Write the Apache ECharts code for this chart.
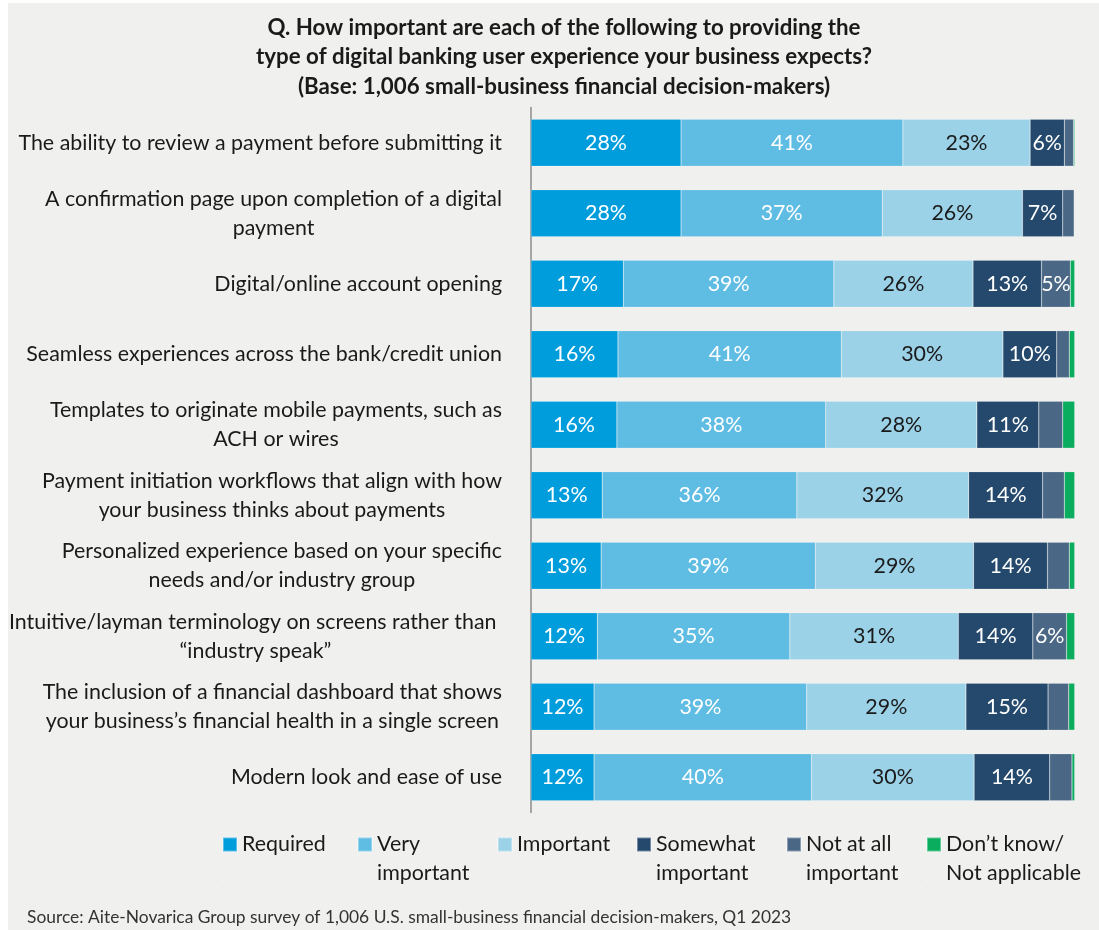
<!DOCTYPE html>
<html>
<head>
<meta charset="utf-8">
<script src="https://cdn.jsdelivr.net/npm/echarts@6/dist/echarts.min.js"></script>
<style>
  html, body { margin: 0; padding: 0; background: #ffffff; }
  #panel { position: absolute; left: 8px; top: 3px; width: 1091px; height: 927px; background: #f0f0ee; }
  #chart { position: absolute; left: 0; top: 0; width: 1099px; height: 930px; }
</style>
</head>
<body>
<div id="panel"></div>
<div id="chart"></div>
<script>
// Survey statements (top to bottom)
const categories = [
  'The ability to review a payment before submitting it',
  'A confirmation page upon completion of a digital\npayment',
  'Digital/online account opening',
  'Seamless experiences across the bank/credit union',
  'Templates to originate mobile payments, such as\nACH or wires',
  'Payment initiation workflows that align with how\nyour business thinks about payments',
  'Personalized experience based on your specific\nneeds and/or industry group',
  'Intuitive/layman terminology on screens rather than \n\u201cindustry speak\u201d',
  'The inclusion of a financial dashboard that shows\nyour business\u2019s financial health in a single screen',
  'Modern look and ease of use'
];

// Response shares (% of respondents) per statement
const required          = [27.6, 27.6, 17.0, 16.0, 15.8, 13.1, 12.9, 12.2, 11.6, 11.6];
const veryImportant     = [40.8, 37.0, 38.7, 41.1, 38.4, 35.8, 39.4, 35.4, 39.1, 40.0];
const important         = [23.4, 25.8, 25.6, 29.7, 27.8, 31.6, 29.1, 31.0, 29.3, 29.9];
const somewhatImportant = [ 6.3,  7.4, 12.6,  9.9, 11.4, 13.6, 13.6, 13.7, 15.1, 13.9];
const notAtAllImportant = [ 1.7,  2.1,  5.3,  2.3,  4.4,  4.0,  4.0,  6.2,  3.8,  4.1];
const dontKnow          = [ 0.2,  0.1,  0.8,  1.0,  2.2,  1.9,  1.0,  1.5,  1.1,  0.5];

const seriesNames = [
  'Required', 'Very important', 'Important',
  'Somewhat important', 'Not at all important', 'Don\u2019t know/Not applicable'
];
const legendLabels = [
  'Required', 'Very\nimportant', 'Important',
  'Somewhat\nimportant', 'Not at all\nimportant', 'Don\u2019t know/\nNot applicable'
];
const seriesData = [required, veryImportant, important, somewhatImportant, notAtAllImportant, dontKnow];

const colors = ['#009ddc', '#5fbce3', '#9bd2e8', '#24496d', '#4a6885', '#0aad5e'];
const labelColors = ['#ffffff', '#ffffff', '#1a1a1a', '#ffffff', '#ffffff', '#ffffff'];
const legendLeft = [222, 357, 497, 636, 786, 926];

const FONT = 'Lato, "Open Sans", sans-serif';
const TEXT = '#1a1a1a';
const FS = 21.4;

// Legend key: a 14px square sitting at the top of a 43px-tall item box,
// so it lines up with the first line of two-line legend names.
const KEY_ICON = 'path://M0,0H14V14H0Z M0,42.96H0.04V43H0Z';

const chart = echarts.init(document.getElementById('chart'), null, { renderer: 'canvas' });

const series = seriesNames.map((name, i) => ({
  name: name,
  type: 'bar',
  stack: 'total',
  barWidth: 47,
  data: seriesData[i],
  itemStyle: { color: colors[i], borderColor: 'rgba(255,255,255,0.35)', borderWidth: 0.5 },
  label: {
    show: i < 5,
    position: 'inside',
    color: labelColors[i],
    fontFamily: FONT,
    fontSize: FS,
    formatter: p => (p.value >= 5 ? Math.round(p.value) + '%' : '')
  },
  emphasis: { disabled: true }
}));

const legends = seriesNames.map((name, i) => ({
  data: [name],
  left: legendLeft[i],
  top: 830,
  padding: 0,
  itemWidth: 14,
  itemHeight: 43,
  icon: KEY_ICON,
  selectedMode: false,
  formatter: () => (legendLabels[i].indexOf('\n') >= 0 ? legendLabels[i] : legendLabels[i] + '\n '),
  textStyle: {
    fontFamily: FONT,
    fontSize: FS,
    lineHeight: 29,
    color: TEXT
  }
}));

chart.setOption({
  animation: false,
  title: [
    {
      text: 'Q. How important are each of the following to providing the\ntype of digital banking user experience your business expects?\n(Base: 1,006 small-business financial decision-makers)',
      left: 564,
      top: 13,
      padding: 0,
      textAlign: 'center',
      textStyle: { fontFamily: FONT, fontSize: 22.3, fontWeight: 'bold', lineHeight: 29.5, color: TEXT }
    },
    {
      text: 'Source: Aite-Novarica Group survey of 1,006 U.S. small-business financial decision-makers, Q1 2023',
      left: 27,
      top: 909,
      padding: 0,
      textStyle: { fontFamily: FONT, fontSize: 17.4, fontWeight: 'normal', color: '#333333' }
    }
  ],
  legend: legends,
  grid: { left: 531, right: 24.3, top: 107.45, bottom: 117.55, containLabel: false },
  xAxis: { type: 'value', min: 0, max: 100, show: false },
  yAxis: {
    type: 'category',
    inverse: true,
    data: categories,
    axisLine: { show: true, lineStyle: { color: '#8c8c8c', width: 1.5 } },
    axisTick: { show: false },
    splitLine: { show: false },
    axisLabel: {
      margin: 29,
      formatter: v => v.split('\n').map(l => '{c|' + l + '}').join('\n'),
      rich: { c: { align: 'center', fontFamily: FONT, fontSize: FS, lineHeight: 29, color: TEXT } }
    }
  },
  series: series
});
</script>
</body>
</html>
